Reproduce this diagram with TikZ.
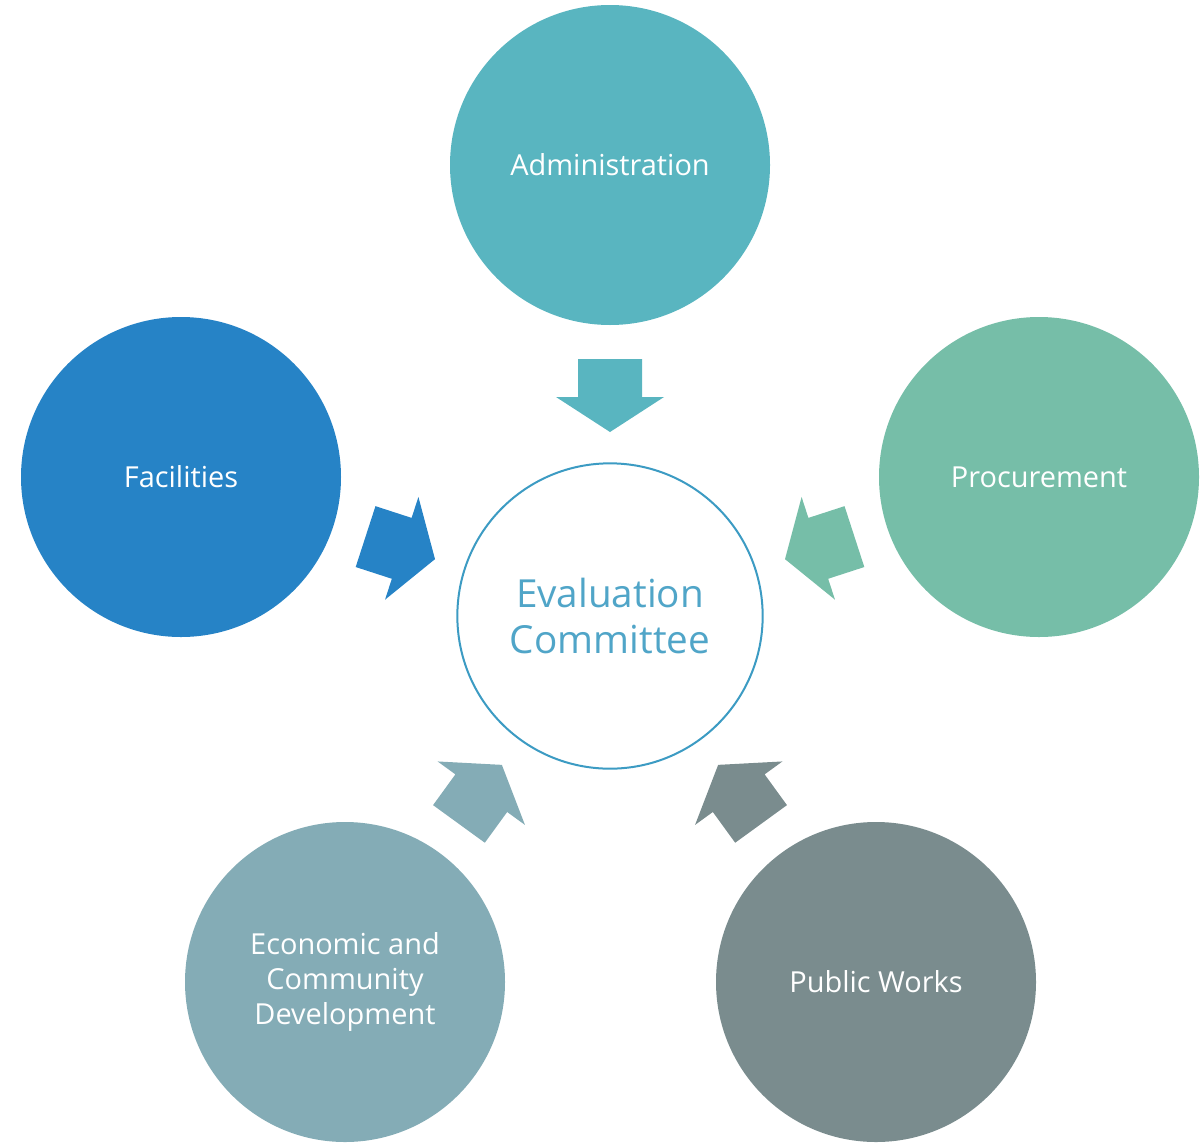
\documentclass[tikz,border=0pt]{standalone}
\usepackage{fontspec}
\setmainfont{Open Sans}
\definecolor{cAdmin}{RGB}{89,181,192}
\definecolor{cProc}{RGB}{118,190,168}
\definecolor{cFac}{RGB}{38,131,198}
\definecolor{cEcon}{RGB}{132,172,182}
\definecolor{cPub}{RGB}{122,140,142}
\definecolor{cRing}{RGB}{60,155,195}
\definecolor{cEvalText}{RGB}{80,165,200}
\begin{document}
\begin{tikzpicture}[x=0.75pt,y=0.75pt,
  outer/.style={circle,minimum size=240pt,inner sep=0pt,text=white,align=center,font=\fontsize{21.7}{26.5}\selectfont}]
\useasboundingbox (0,0) rectangle (1201,-1142);
\node[circle,draw=cRing,line width=1.5pt,fill=white,minimum size=229pt,inner sep=0pt,
  text=cEvalText,align=center,font=\fontsize{29}{34}\selectfont] (ctr) at (610,-616) {Evaluation\\Committee};
\node[outer,fill=cAdmin] (admin) at (610,-165) {Administration};
\node[outer,fill=cProc] (proc) at (1039,-477) {Procurement};
\node[outer,fill=cFac] (fac) at (181,-477) {Facilities};
\node[outer,fill=cEcon] (econ) at (345,-982) {Economic and\\Community\\Development};
\node[outer,fill=cPub] (pub) at (876,-982) {Public Works};
\foreach \ang/\col in {0/cAdmin,-72/cProc,72/cFac,144/cEcon,-144/cPub}{
  \begin{scope}[shift={(ctr.center)},rotate=\ang]
    \fill[\col] (-32,257) -- (32,257) -- (32,219) -- (54,219) -- (0,184) -- (-54,219) -- (-32,219) -- cycle;
  \end{scope}
}
\end{tikzpicture}
\end{document}
